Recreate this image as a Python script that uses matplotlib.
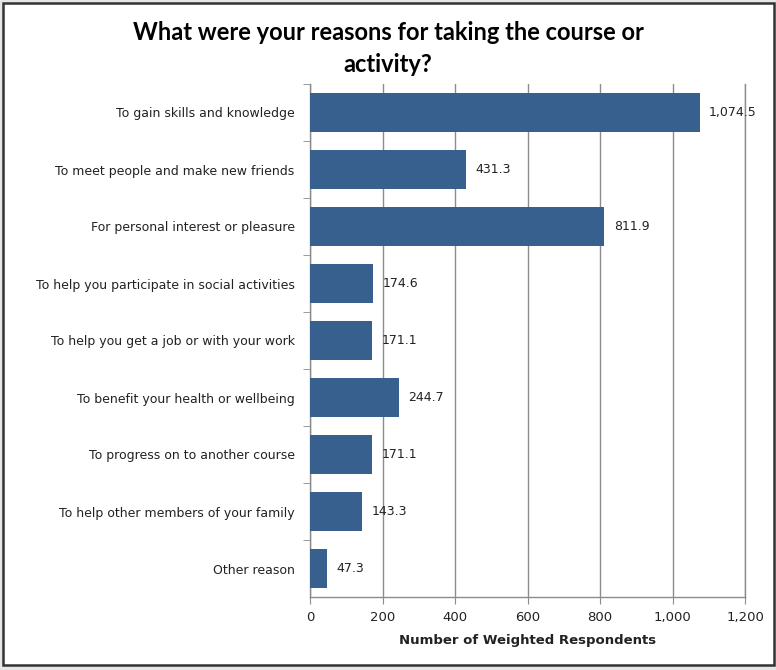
import matplotlib.pyplot as plt
from matplotlib.patches import Rectangle
from matplotlib.ticker import FuncFormatter, FixedLocator

reasons = [
    "To gain skills and knowledge",
    "To meet people and make new friends",
    "For personal interest or pleasure",
    "To help you participate in social activities",
    "To help you get a job or with your work",
    "To benefit your health or wellbeing",
    "To progress on to another course",
    "To help other members of your family",
    "Other reason",
]
respondents = [1074.5, 431.3, 811.9, 174.6, 171.1, 244.7, 171.1, 143.3, 47.3]

BAR_COLOR = "#37608F"
GRID_COLOR = "#8C8C8C"

fig = plt.figure(figsize=(7.76, 6.70), dpi=100)
fig.patch.set_facecolor("#E6E6E6")

# white chart area with dark frame
fig.add_artist(Rectangle((3 / 776, 5 / 670), 771 / 776, 662 / 670,
                         transform=fig.transFigure, facecolor="white",
                         edgecolor="#333333", linewidth=1.8, zorder=0))

ax = fig.add_axes([310 / 776, 73 / 670, 435 / 776, 513 / 670])
ax.set_facecolor("none")

positions = list(range(len(reasons)))
bars = ax.barh(positions, respondents, height=0.67, color=BAR_COLOR, zorder=3)

for bar, value in zip(bars, respondents):
    ax.text(bar.get_width() + 26, bar.get_y() + bar.get_height() / 2,
            f"{value:,.1f}", va="center", ha="left", fontsize=9,
            family="DejaVu Sans", color="#222222", zorder=4)

ax.set_xlim(0, 1200)
ax.set_ylim(len(reasons) - 0.5, -0.5)
ax.set_xticks(range(0, 1201, 200))
ax.xaxis.set_major_formatter(FuncFormatter(lambda v, _: f"{v:,.0f}"))
ax.set_yticks(positions)
ax.set_yticklabels(reasons, fontsize=9, family="DejaVu Sans", color="#222222")
ax.yaxis.set_minor_locator(FixedLocator([p + 0.5 for p in positions[:-1]] + [-0.5]))
ax.tick_params(axis="y", which="major", length=0, pad=11)
ax.tick_params(axis="y", which="minor", length=5, color=GRID_COLOR, direction="out")
ax.tick_params(axis="x", length=5, color=GRID_COLOR, labelsize=9.5, pad=5,
               labelcolor="#222222")

ax.grid(axis="x", color=GRID_COLOR, linewidth=1.0, zorder=0)
ax.spines["top"].set_visible(False)
for side in ("left", "bottom", "right"):
    ax.spines[side].set_color(GRID_COLOR)
    ax.spines[side].set_linewidth(1.0)

ax.set_xlabel("Number of Weighted Respondents", fontsize=9.5, fontweight="bold",
              family="DejaVu Sans", color="#222222", labelpad=7)

fig.text(0.5, 0.928, "What were your reasons for taking the course or\nactivity?",
         ha="center", va="center", fontsize=17, fontweight="bold",
         family="Lato", linespacing=1.45)

fig.savefig("out.png", dpi=100, facecolor=fig.get_facecolor())
